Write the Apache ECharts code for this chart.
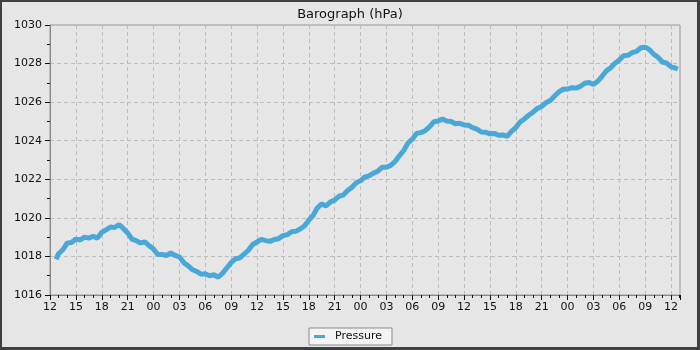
<!DOCTYPE html>
<html><head><meta charset="utf-8">
<script src="https://cdn.jsdelivr.net/npm/echarts@6/dist/echarts.min.js"></script>
<style>
html,body{margin:0;padding:0;background:#e6e6e6;}
#chart{position:absolute;left:0;top:0;width:700px;height:350px;}
#frame{position:absolute;left:0;top:0;width:700px;height:350px;box-sizing:border-box;border-style:solid;border-color:#404040;border-width:2px 3px 3px 2px;pointer-events:none;}
</style></head>
<body><div id="chart"></div><div id="frame"></div>
<script>
const titleText = 'Barograph (hPa)';
const seriesName = 'Pressure';
const xTickLabels = ['12','15','18','21','00','03','06','09','12','15','18','21','00','03','06','09','12','15','18','21','00','03','06','09','12'];
const hours = [0.7,1,1.5,2,2.5,3,3.5,4,4.5,5,5.5,6,6.5,7,7.5,8,8.5,9,9.5,10,10.5,11,11.5,12,12.5,13,13.5,14,14.5,15,15.5,16,16.5,17,17.5,18,18.5,19,19.5,20,20.5,21,21.5,22,22.5,23,23.5,24,24.5,25,25.5,26,26.5,27,27.5,28,28.5,29,29.5,30,30.5,31,31.5,32,32.5,33,33.5,34,34.5,35,35.5,36,36.5,37,37.5,38,38.5,39,39.5,40,40.5,41,41.5,42,42.5,43,43.5,44,44.5,45,45.5,46,46.5,47,47.5,48,48.5,49,49.5,50,50.5,51,51.5,52,52.5,53,53.5,54,54.5,55,55.5,56,56.5,57,57.5,58,58.5,59,59.5,60,60.5,61,61.5,62,62.5,63,63.5,64,64.5,65,65.5,66,66.5,67,67.5,68,68.5,69,69.5,70,70.5,71,71.5,72,72.5,72.8];
const pressure = [1017.85,1018.15,1018.35,1018.7,1018.72,1018.9,1018.85,1019.0,1018.95,1019.05,1018.95,1019.25,1019.38,1019.52,1019.5,1019.65,1019.45,1019.22,1018.9,1018.82,1018.7,1018.75,1018.55,1018.38,1018.1,1018.1,1018.05,1018.18,1018.05,1017.98,1017.68,1017.52,1017.32,1017.22,1017.08,1017.1,1017.0,1017.05,1016.92,1017.12,1017.4,1017.68,1017.88,1017.92,1018.12,1018.32,1018.62,1018.75,1018.88,1018.82,1018.78,1018.88,1018.92,1019.08,1019.12,1019.28,1019.3,1019.42,1019.58,1019.88,1020.12,1020.52,1020.72,1020.62,1020.82,1020.92,1021.12,1021.18,1021.42,1021.58,1021.82,1021.92,1022.12,1022.18,1022.32,1022.42,1022.62,1022.62,1022.72,1022.92,1023.22,1023.48,1023.88,1024.08,1024.38,1024.42,1024.52,1024.72,1024.98,1025.02,1025.12,1025.02,1025.0,1024.88,1024.9,1024.82,1024.8,1024.68,1024.6,1024.45,1024.44,1024.36,1024.38,1024.28,1024.3,1024.22,1024.48,1024.68,1024.97,1025.13,1025.32,1025.48,1025.67,1025.78,1025.97,1026.08,1026.32,1026.53,1026.67,1026.68,1026.75,1026.73,1026.82,1026.98,1027.02,1026.92,1027.08,1027.34,1027.62,1027.78,1028.02,1028.18,1028.41,1028.43,1028.57,1028.63,1028.82,1028.85,1028.72,1028.48,1028.32,1028.08,1028.02,1027.83,1027.77,1027.72];

const data = hours.map((h, i) => [h, pressure[i]]);
const font = 'DejaVu Sans';
const chart = echarts.init(document.getElementById('chart'), null, {renderer: 'canvas'});
chart.setOption({
  backgroundColor: '#e6e6e6',
  animation: false,
  title: {text: titleText, left: 'center', top: 3, textStyle: {fontFamily: font, fontSize: 13, fontWeight: 'normal', color: '#111'}},
  legend: {
    left: 309, top: 328, padding: [3, 10, 3, 5],
    backgroundColor: '#f4f4f4', borderColor: '#8a8a8a', borderWidth: 1, borderRadius: 0,
    itemWidth: 11, itemHeight: 3, itemGap: 10, icon: 'rect',
    textStyle: {fontFamily: font, fontSize: 11, color: '#111', padding: [0, 0, 0, 5]},
    data: [{name: seriesName, icon: 'rect'}]
  },
  grid: {left: 50, right: 20, top: 25, bottom: 55, show: true, borderColor: '#999', borderWidth: 1, backgroundColor: 'transparent'},
  xAxis: {
    type: 'value', min: 0, max: 73.04, interval: 3,
    axisLine: {lineStyle: {color: '#888', width: 1}},
    axisTick: {show: true, length: 5, lineStyle: {color: '#111'}},
    minorTick: {show: true, splitNumber: 3, length: 3, lineStyle: {color: '#111'}},
    splitLine: {show: true, lineStyle: {color: '#bdbdbd', type: [4, 3]}},
    axisLabel: {fontFamily: font, fontSize: 11, color: '#111', margin: 7, showMaxLabel: false,
      formatter: v => { const i = Math.round(v / 3); return (Math.abs(v - i * 3) < 1e-6 && xTickLabels[i] !== undefined) ? xTickLabels[i] : ''; }}
  },
  yAxis: {
    type: 'value', min: 1016, max: 1030, interval: 2,
    axisLine: {show: true, lineStyle: {color: '#888', width: 1}},
    axisTick: {show: true, length: 5, lineStyle: {color: '#111'}},
    minorTick: {show: true, splitNumber: 2, length: 3, lineStyle: {color: '#111'}},
    splitLine: {show: true, lineStyle: {color: '#bdbdbd', type: [4, 3]}},
    axisLabel: {fontFamily: font, fontSize: 11, color: '#111', margin: 8, formatter: v => String(v)}
  },
  series: [{
    name: seriesName, type: 'line', data: data, showSymbol: false, symbol: 'none',
    lineStyle: {color: '#4aa8d8', width: 5, cap: 'butt', join: 'bevel'}, itemStyle: {color: '#4aa8d8'}
  }]
});
</script></body></html>
